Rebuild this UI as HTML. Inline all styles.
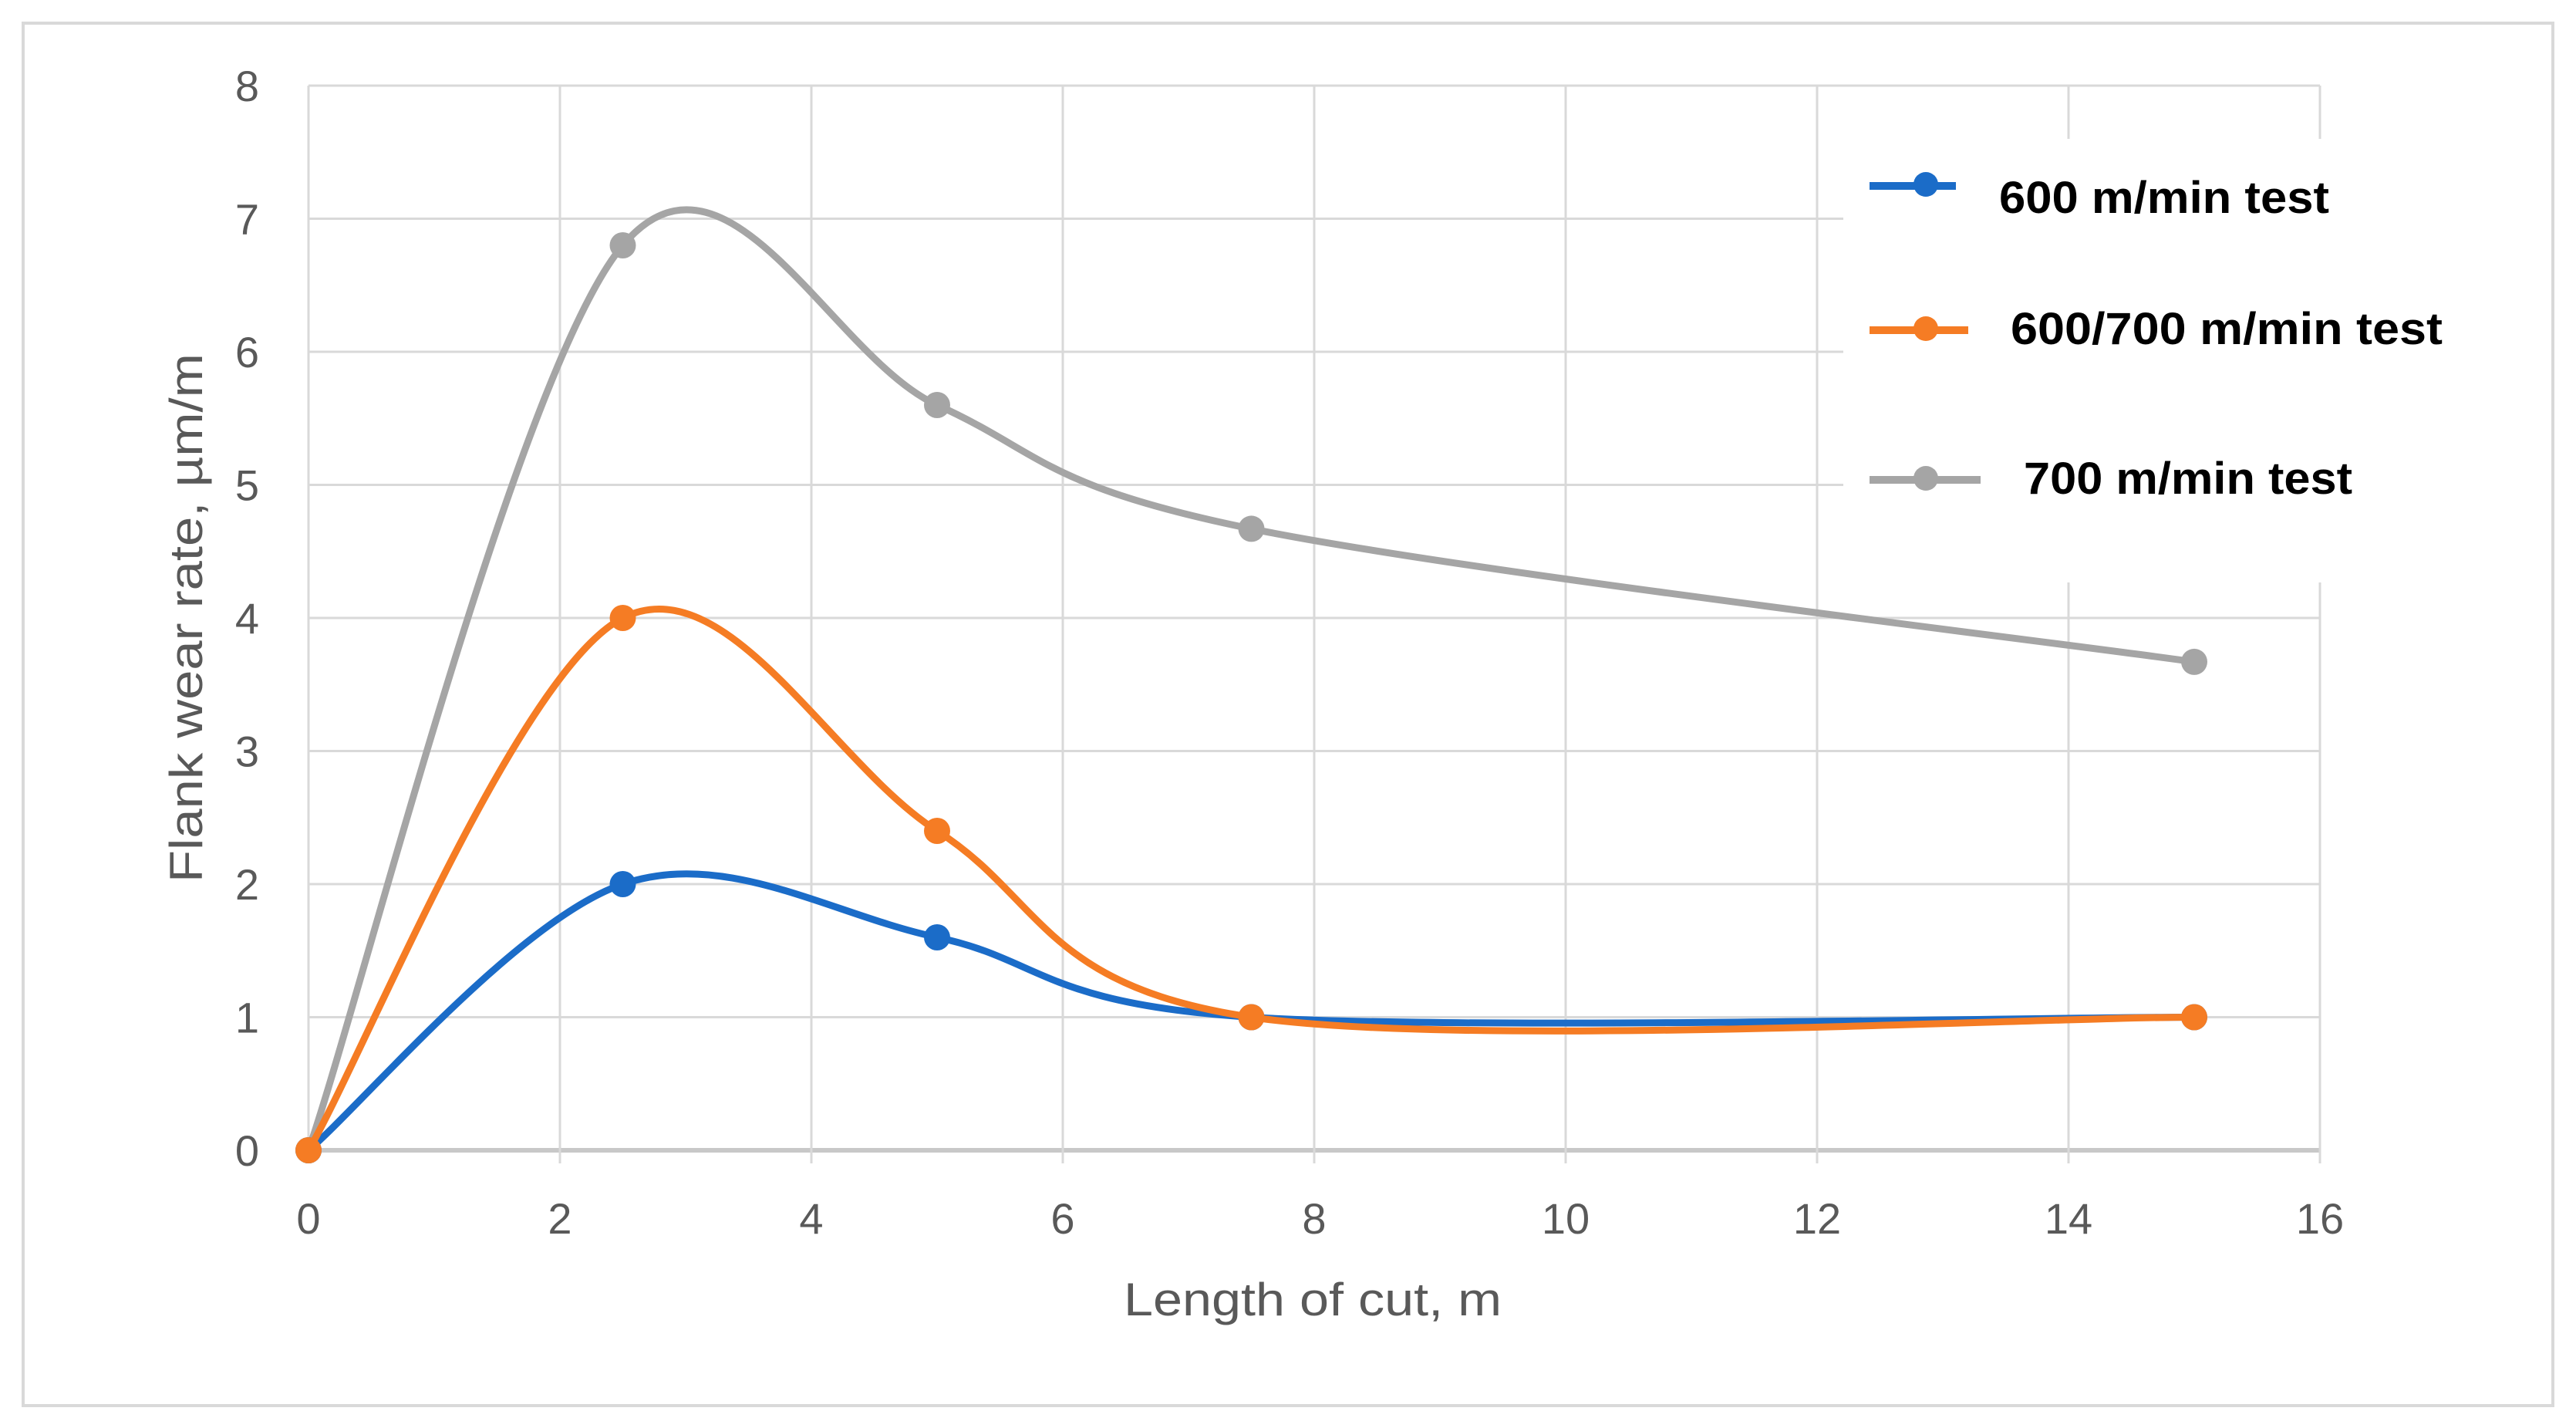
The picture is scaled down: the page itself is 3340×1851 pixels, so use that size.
<!DOCTYPE html>
<html><head><meta charset="utf-8"><style>
html,body{margin:0;padding:0;background:#fff;}
svg{display:block;font-family:"Liberation Sans",sans-serif;}
</style></head><body>
<svg id="chart" width="3340" height="1851" viewBox="0 0 3340 1851">
<rect x="30" y="30" width="3280" height="1792" fill="#fff" stroke="#d9d9d9" stroke-width="4"/>
<g id="grid"></g>
<g id="ticks"></g>
<rect x="2390" y="180" width="800" height="575" fill="#fff"/>
<g id="series"></g>
<g id="legend"></g>
<text x="1702" y="1705" font-size="60" fill="#595959" text-anchor="middle" textLength="490" lengthAdjust="spacingAndGlyphs">Length of cut, m</text>
<text transform="translate(262,801) rotate(-90)" font-size="60" fill="#595959" text-anchor="middle" textLength="686" lengthAdjust="spacingAndGlyphs">Flank wear rate, µm/m</text>
</svg>
<script>
const xCats = [0, 2.5, 5, 7.5, 15];
const s600 = [0, 2, 1.6, 1, 1];
const s600700 = [0, 4, 2.4, 1, 1];
const s700 = [0, 6.8, 5.6, 4.67, 3.67];
const seriesNames = ["600 m/min test", "600/700 m/min test", "700 m/min test"];
const xTicks = [0, 2, 4, 6, 8, 10, 12, 14, 16];
const yTicks = [0, 1, 2, 3, 4, 5, 6, 7, 8];

const NS = "http://www.w3.org/2000/svg";
const X0 = 400, X1 = 3008, Y0 = 1491, Y1 = 111;
const xs = v => X0 + (v - 0) / 16 * (X1 - X0);
const ys = v => Y0 - v / 8 * (Y0 - Y1);
function mk(tag, attrs, parent) { const e = document.createElementNS(NS, tag); for (const k in attrs) e.setAttribute(k, attrs[k]); parent.appendChild(e); return e; }

const grid = document.getElementById('grid');
const ticks = document.getElementById('ticks');
yTicks.forEach(v => {
  const l = mk('line', {x1: X0, x2: X1, y1: ys(v), y2: ys(v), stroke: v === 0 ? '#c8c8c8' : '#d9d9d9', 'stroke-width': v === 0 ? 6 : 3}, grid);
  
  
  const t = mk('text', {x: 336, y: ys(v) + 20, 'font-size': 56, fill: '#595959', 'text-anchor': 'end'}, ticks);
  t.textContent = v;
  
  
});
xTicks.forEach(v => {
  const l = mk('line', {x1: xs(v), x2: xs(v), y1: Y1, y2: Y0 + 17, stroke: '#d9d9d9', 'stroke-width': 3}, grid);
  
  
  const t = mk('text', {x: xs(v), y: 1599, 'font-size': 56, fill: '#595959', 'text-anchor': 'middle'}, ticks);
  t.textContent = v;
  
  
});

function smoothPath(vals) {
  const p = xCats.map((x, i) => [xs(x), ys(vals[i])]);
  let d = `M${p[0][0]},${p[0][1]}`;
  for (let i = 0; i < p.length - 1; i++) {
    const a = p[i - 1] || p[i], b = p[i], c = p[i + 1], e = p[i + 2] || c;
    const c1 = [b[0] + (c[0] - a[0]) / 6, b[1] + (c[1] - a[1]) / 6];
    const c2 = [c[0] - (e[0] - b[0]) / 6, c[1] - (e[1] - b[1]) / 6];
    d += ` C${c1[0]},${c1[1]} ${c2[0]},${c2[1]} ${c[0]},${c[1]}`;
  }
  return d;
}
const sg = document.getElementById('series');
const defs = [[s700, '#a5a5a5', 'series-700'], [s600, '#1b6cc8', 'series-600'], [s600700, '#f57c24', 'series-600-700']];
defs.forEach(([vals, col, nm]) => {
  const g = mk('g', {}, sg);
  
  
  const path = mk('path', {d: smoothPath(vals), fill: 'none', stroke: col, 'stroke-width': 9, 'stroke-linecap': 'round'}, g);
  
  
  xCats.forEach((x, i) => {
    const c = mk('circle', {cx: xs(x), cy: ys(vals[i]), r: 17, fill: col}, g);
    
    
  });
});

const lg = document.getElementById('legend');
const lcols = ['#1b6cc8', '#f57c24', '#a5a5a5'];
const lineY = [241, 428, 622], lineX2 = [2536, 2552, 2568], textX = [2592, 2607, 2624], textW = [428, 560, 426], textY = [276, 446, 640];
seriesNames.forEach((n, i) => {
  const g = mk('g', {}, lg);
  
  
  mk('line', {x1: 2424, x2: lineX2[i], y1: lineY[i], y2: lineY[i], stroke: lcols[i], 'stroke-width': 10}, g);
  mk('circle', {cx: 2497, cy: lineY[i] - 2, r: 16, fill: lcols[i]}, g);
  const t = mk('text', {x: textX[i], y: textY[i], 'font-size': 58, 'font-weight': 'bold', fill: '#000', textLength: textW[i], lengthAdjust: 'spacingAndGlyphs'}, g);
  t.textContent = n;
  
  
});
</script>
</body></html>
